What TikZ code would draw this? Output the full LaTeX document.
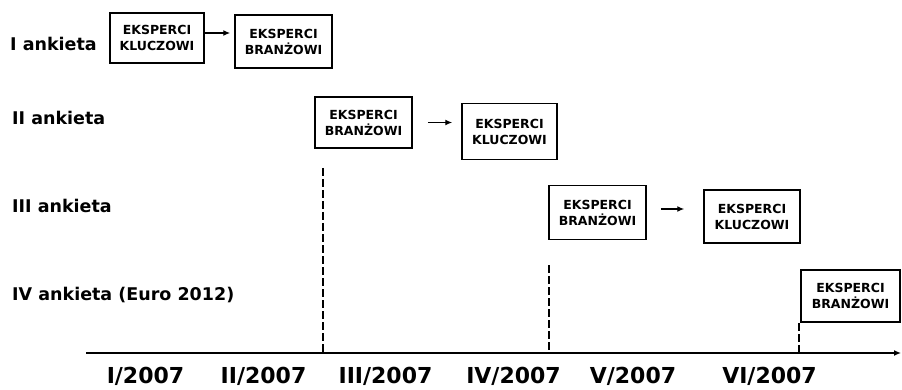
\documentclass[tikz,border=0pt]{standalone}
\usepackage{fontspec}
\setmainfont{DejaVu Sans}
\usetikzlibrary{arrows.meta}
\begin{document}
\begin{tikzpicture}[x=1pt,y=-1pt,
  box/.style={draw, line width=1.5pt, minimum width=96pt, minimum height=52pt, inner sep=0pt, align=center, font=\fontsize{12.5}{16}\selectfont\bfseries},
  lbl/.style={anchor=base west, inner sep=0pt, font=\fontsize{17.5}{20}\selectfont\bfseries},
  datelbl/.style={anchor=base, inner sep=0pt, font=\fontsize{22}{26}\selectfont\bfseries},
  arr/.style={line width=1.3pt, -{Latex[length=7pt,width=6pt]}},
  vline/.style={line width=1.6pt, dash pattern=on 8pt off 3pt}
]
\useasboundingbox (0,0) rectangle (902,390);

% row labels
\node[lbl] (l1) at (10,51) {I ankieta};
\node[lbl] (l2) at (12,125) {II ankieta};
\node[lbl] (l3) at (12,213) {III ankieta};
\node[lbl] (l4) at (12,300) {IV ankieta (Euro 2012)};

% boxes
\node[box, minimum width=94pt, minimum height=50pt] (b1) at (157,38) {EKSPERCI\\KLUCZOWI};
\node[box, minimum width=97pt, minimum height=53pt] (b2) at (283.5,41.5) {EKSPERCI\\BRANŻOWI};
\node[box, minimum width=97pt, minimum height=51pt] (b3) at (363.5,122.5) {EKSPERCI\\BRANŻOWI};
\node[box, minimum width=95pt, minimum height=56pt] (b4) at (509.5,131.5) {EKSPERCI\\KLUCZOWI};
\node[box, minimum width=97pt, minimum height=54pt] (b5) at (597.5,212.5) {EKSPERCI\\BRANŻOWI};
\node[box, minimum width=96pt, minimum height=53pt] (b6) at (752,216.5) {EKSPERCI\\KLUCZOWI};
\node[box, minimum width=99pt, minimum height=52pt] (b7) at (850.5,296) {EKSPERCI\\BRANŻOWI};

% arrows between boxes
\draw[arr, shorten >=4pt] ([yshift=5pt]b1.east) -- ([yshift=5pt]b1.east -| b2.west);
\draw[arr, shorten <=15pt, shorten >=9pt] (b3.east) -- (b3.east -| b4.west);
\draw[arr, shorten <=14pt, shorten >=19pt] ([yshift=3.5pt]b5.east) -- ([yshift=3.5pt]b5.east -| b6.west);

% time axis
\coordinate (ax0) at (86,353);
\coordinate (ax1) at (901,353);
\draw[arr] (ax0) -- (ax1);

% dashed separators
\coordinate (d1t) at (323,168);
\coordinate (d2t) at (549,265);
\draw[vline] (d1t) -- (d1t |- ax0);
\draw[vline] (d2t) -- (d2t |- ax0);
\draw[vline] ([xshift=-1pt]b7.south west) -- ([xshift=-1pt]b7.south west |- ax0);

% month labels
\node[datelbl] (m1) at (145.5,383) {I/2007};
\node[datelbl] (m2) at (263.5,383) {II/2007};
\node[datelbl] (m3) at (385.5,383) {III/2007};
\node[datelbl] (m4) at (513.5,383) {IV/2007};
\node[datelbl] (m5) at (633,383) {V/2007};
\node[datelbl] (m6) at (769.5,383) {VI/2007};
\end{tikzpicture}
\end{document}
